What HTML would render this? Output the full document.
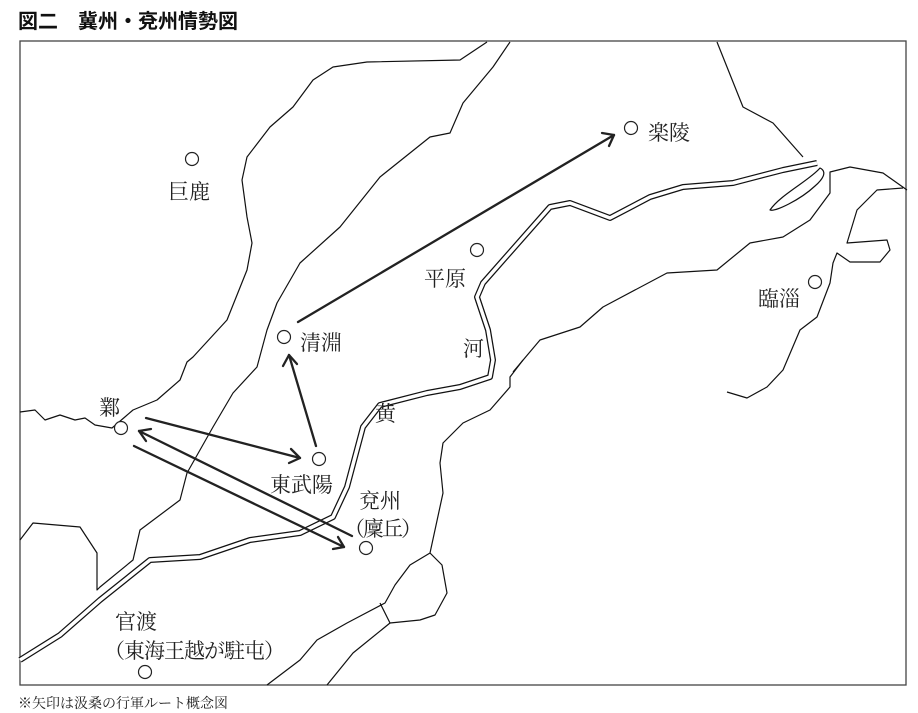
<!DOCTYPE html>
<html><head><meta charset="utf-8"><style>
html,body{margin:0;padding:0;background:#fff;}
body{width:918px;height:712px;position:relative;overflow:hidden;font-family:"Liberation Serif","Noto Serif CJK SC","Noto Sans CJK JP",serif;}
.t{position:absolute;color:#222;white-space:nowrap;}
</style></head><body>
<div class="t" style="left:18px;top:5px;font-size:20px;font-weight:bold;color:#111;font-family:'Liberation Sans','Noto Sans CJK JP',sans-serif;">図二　冀州・兗州情勢図</div>
<svg width="918" height="712" style="position:absolute;left:0;top:0">
<rect x="20" y="41" width="886" height="644" fill="none" stroke="#444" stroke-width="1.3"/>
<g fill="none" stroke="#111" stroke-width="1.2" stroke-linejoin="round">
<path d="M487,42 L460,60 L367,62 L333,67 L313,80 L293,107 L270,127 L247,157 L242,180 L247,217 L252,243 L247,270 L227,320 L193,357 L187,362 L180,380 L157,400 L133,410 L112,428 L95,425 L85,418 L75,420 L60,415 L45,420 L35,410 L20,412"/>
<path d="M510,42 L493,67 L463,103 L450,133 L430,137 L410,153 L380,177 L340,227 L300,263 L277,303 L267,330 L257,367 L233,393 L213,427 L187,473 L180,500 L140,530 L133,560 L100,587 L97,590 L97,553 L80,527 L33,523 L20,540"/>
<path d="M717,42 L727,67 L743,107 L773,123 L803,157"/>
<path d="M513,372 L540,340 L580,327 L603,307 L667,273 L717,270 L750,243 L783,237 L810,220 L830,193 L830,172 L850,167 L883,173 L907,190"/>
<path d="M903,188 L877,190 L857,210 L847,243 L887,240 L890,250 L880,262 L850,262 L837,253 L833,263 L830,283 L817,317 L800,330 L783,370 L767,387 L747,398 L727,392"/>
<path d="M770,210 C780,195 810,180 820,168 C828,172 822,180 815,186 C800,200 775,212 770,210 Z"/>
<path d="M523,360 L510,377 L510,387 L490,410 L463,423 L443,443 L440,463 L443,493 L430,553 L410,565 L395,585 L385,603 L347,623 L317,640 L300,660 L267,685"/>
<path d="M430,553 L442,565 L447,593 L435,615 L420,620 L390,623 L380,603"/>
<path d="M390,623 L353,653 L327,685"/>
</g>
<path d="M20,660 L60,635 L100,600 L150,560 L200,557 L250,540 L300,533 L333,517 L347,487 L363,427 L380,405 L427,393 L460,387 L490,377 L493,360 L488,330 L477,297 L483,283 L550,207 L570,203 L610,218 L650,197 L683,187 L733,183 L783,170 L817,163" fill="none" stroke="#111" stroke-width="6" stroke-linejoin="round"/>
<path d="M20,660 L60,635 L100,600 L150,560 L200,557 L250,540 L300,533 L333,517 L347,487 L363,427 L380,405 L427,393 L460,387 L490,377 L493,360 L488,330 L477,297 L483,283 L550,207 L570,203 L610,218 L650,197 L683,187 L733,183 L783,170 L817,163" fill="none" stroke="#fff" stroke-width="3.5" stroke-linejoin="round"/>
<g fill="#fff" stroke="#222" stroke-width="1.2">
<circle cx="192" cy="159" r="6.5"/><circle cx="631" cy="128" r="6.5"/><circle cx="477" cy="250" r="6.5"/>
<circle cx="284" cy="337" r="6.5"/><circle cx="815" cy="282" r="6.5"/><circle cx="121" cy="428" r="6.5"/>
<circle cx="319" cy="459" r="6.5"/><circle cx="366" cy="548" r="6.5"/><circle cx="145" cy="672" r="6.5"/>
</g>
<g fill="none" stroke="#222" stroke-width="2.3" stroke-linecap="round" stroke-linejoin="round">
<path d="M298,322 L614,135"/><path d="M602,133 L614,135 L609,146"/>
<path d="M316,446 L289,355"/><path d="M283,366 L289,355 L297,364"/>
<path d="M146,418 L300,458"/><path d="M291,449 L300,458 L289,463"/>
<path d="M352,536 L139,431"/><path d="M151,429 L139,431 L146,441"/>
<path d="M134,446 L344,547"/><path d="M333,549 L344,547 L338,537"/>
</g>
</svg>
<div class="t" style="left:168px;top:176px;font-size:21px;">巨鹿</div>
<div class="t" style="left:648px;top:117px;font-size:21px;">楽陵</div>
<div class="t" style="left:424px;top:263px;font-size:21px;">平原</div>
<div class="t" style="left:300px;top:327px;font-size:21px;">清淵</div>
<div class="t" style="left:758px;top:283px;font-size:21px;">臨淄</div>
<div class="t" style="left:463px;top:333px;font-size:21px;">河</div>
<div class="t" style="left:375px;top:398px;font-size:21px;">黄</div>
<div class="t" style="left:99px;top:392px;font-size:21px;">鄴</div>
<div class="t" style="left:270px;top:469px;font-size:21px;">東武陽</div>
<div class="t" style="left:359px;top:485px;font-size:21px;">兗州</div>
<div class="t" style="left:344px;top:513px;font-size:21px;letter-spacing:-2px;">（廩丘）</div>
<div class="t" style="left:115px;top:606px;font-size:21px;">官渡</div>
<div class="t" style="left:104px;top:635px;font-size:21px;letter-spacing:-1px;">（東海王越が駐屯）</div>
<div class="t" style="left:18px;top:693px;font-size:14px;">※矢印は汲桑の行軍ルート概念図</div>
</body></html>
